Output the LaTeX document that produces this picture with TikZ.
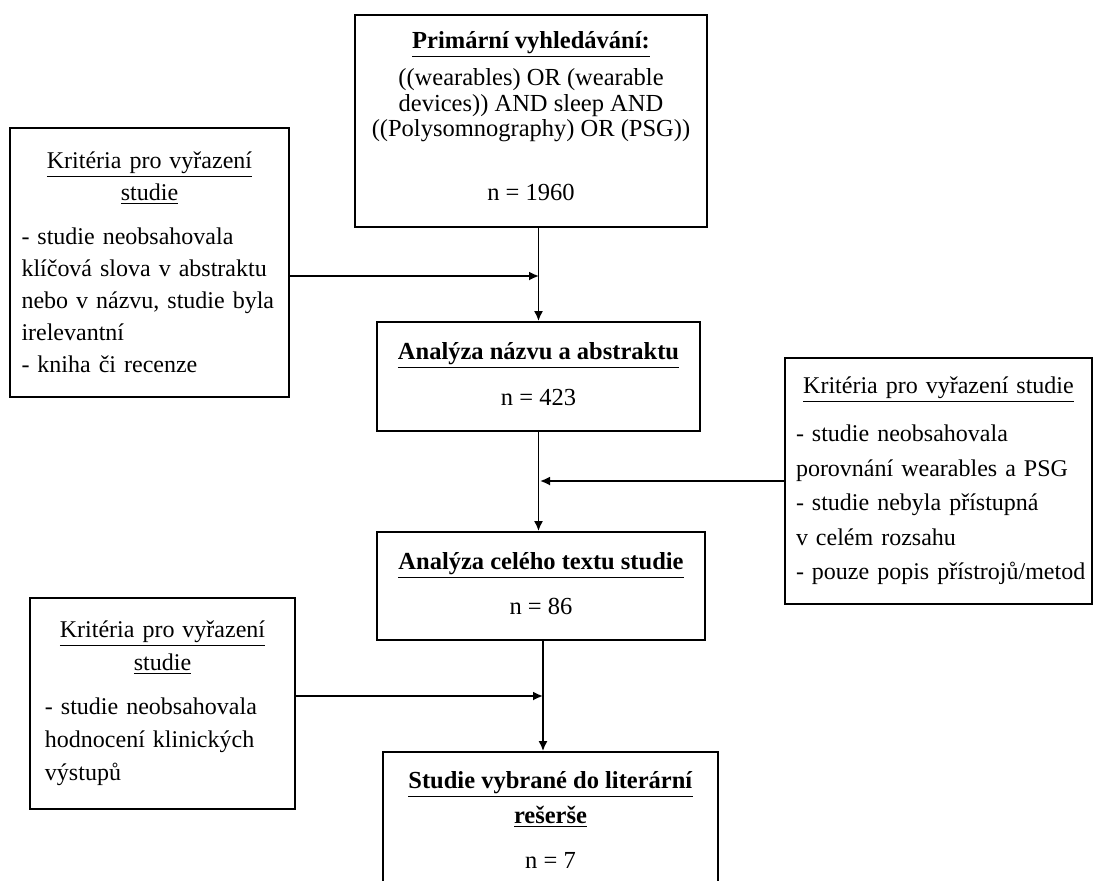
\documentclass[tikz,border=0pt]{standalone}
\usepackage{fontspec}
\setmainfont{Liberation Serif}
\usetikzlibrary{arrows.meta}

\begin{document}
\begin{tikzpicture}[x=0.5pt,y=-0.5pt,
    box/.style={draw,line width=0.9pt,rectangle,inner sep=0pt},
    main/.style={box,align=center,font=\fontsize{12.25pt}{16.75pt}\selectfont},
    crit/.style={box,font=\fontsize{12pt}{#1}\selectfont},
    crit/.default=16.75pt,
    arr/.style={draw,line width=0.9pt,-{Latex[length=5pt,width=4.5pt]}}]
  %\draw[help lines](0,0) grid(1094,890);
  \useasboundingbox (0,0) rectangle (1094,890);
  \node[main,minimum width=176pt,minimum height=106pt,text depth=5pt,
    font=\fontsize{12.25pt}{12.75pt}\selectfont] (prim) at (531,121)
    {\underline{\textbf{Primární vyhledávání:}}\\[4.75pt]
     ((wearables) OR (wearable\\ devices)) AND sleep AND\\
     ((Polysomnography) OR (PSG))\\[19.25pt] n = 1960};
  \node[crit=16pt,minimum width=139.5pt,minimum height=134.5pt,text width=128pt] (exA) at (149.5,262.5)
    {\centering\underline{Kritéria pro vyřazení}\\\underline{studie}\par\vspace{6pt}
     \raggedright - studie neobsahovala\\klíčová slova v abstraktu\\nebo v názvu, studie byla\\
     irelevantní\\- kniha či recenze\par\vspace{5pt}};
  \node[main,minimum width=161.5pt,minimum height=54.5pt,text depth=3pt] (ana) at (538.5,376.5)
    {\underline{\textbf{Analýza názvu a abstraktu}}\\[6.25pt] n = 423};
  \node[crit=17.25pt,minimum width=153.5pt,minimum height=123pt,text width=149.5pt] (exR) at (938.5,481)
    {\centering\underline{Kritéria pro vyřazení studie}\par\vspace{6.75pt}
     \raggedright\leftskip=3.5pt - studie neobsahovala\\porovnání wearables a PSG\\- studie nebyla přístupná\\
     v celém rozsahu\\- pouze popis přístrojů/metod\par};
  \node[main,minimum width=164pt,minimum height=54pt,text depth=3pt] (cel) at (541,586)
    {\underline{\textbf{Analýza celého textu studie}}\\[5.75pt] n = 86};
  \node[crit=16.5pt,minimum width=132.5pt,minimum height=105.5pt,text width=117.5pt] (exC) at (162.5,703.5)
    {\centering\underline{Kritéria pro vyřazení}\\\underline{studie}\par\vspace{5.5pt}
     \raggedright - studie neobsahovala\\hodnocení klinických\\výstupů\par};
  \begin{scope}
    \clip (0,0) rectangle (1094,880);
    \node[main,minimum width=167.5pt,minimum height=68pt] (fin) at (550.5,820)
      {\underline{\textbf{Studie vybrané do literární}}\\[0.75pt]
       \underline{\textbf{rešerše}}\\[5.75pt] n = 7};
  \end{scope}
  % joints on the main line
  \coordinate (jA) at (539,276);
  \coordinate (jR) at (540,481);
  \coordinate (jC) at (543,696);
  \path[arr] (prim.south -| ana.north) -- (ana.north);
  \path[arr] (exA.east |- jA) -- (jA);
  \path[arr] (ana.south) -- (ana.south |- cel.north);
  \path[arr] (exR.west) -- (jR);
  \path[arr] (cel.south -| jC) -- (jC |- fin.north);
  \path[arr] (exC.east |- jC) -- (jC);
\end{tikzpicture}
\end{document}
